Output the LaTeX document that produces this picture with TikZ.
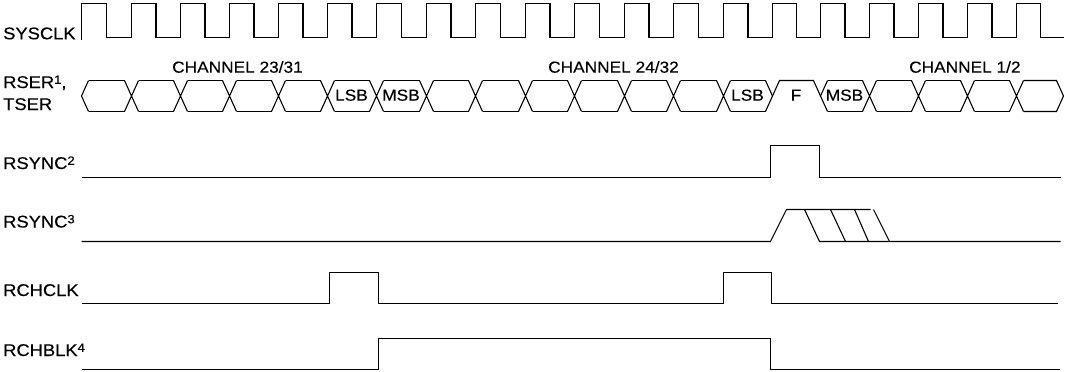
\documentclass[tikz,border=0pt]{standalone}
\usepackage{fontspec}
\setmainfont{Liberation Sans}[FakeStretch=1.08,FakeBold=0.3]
\newcommand{\supnum}[1]{\raisebox{4.2pt}{\fontsize{12}{12}\selectfont #1}}
\begin{document}
\begin{tikzpicture}[x=1pt,y=-1pt,
  wave/.style={line width=1.1pt,black,line join=miter},
  lbl/.style={anchor=base west,inner sep=0pt,font=\fontsize{17}{20}\selectfont},
  chl/.style={anchor=base west,inner sep=0pt,font=\fontsize{16}{19}\selectfont},
  cell/.style={anchor=base,inner sep=0pt,font=\fontsize{16}{19}\selectfont}]
\useasboundingbox (0,0) rectangle (1072,372);
% labels
\node[lbl] (lsys) at (3,39.3) {SYSCLK};
\node[lbl] (lrser) at (3,88) {RSER\supnum{1},};
\node[lbl] (ltser) at (3,110) {TSER};
\node[lbl] (lrs2) at (3,169) {RSYNC\supnum{2}};
\node[lbl] (lrs3) at (3,227.5) {RSYNC\supnum{3}};
\node[lbl] (lrch) at (3,296) {RCHCLK};
\node[lbl] (lrbl) at (3,356) {RCHBLK\supnum{4}};
\node[chl] (ch1) at (172,72.7) {CHANNEL 23/31};
\node[chl] (ch2) at (548,72.7) {CHANNEL 24/32};
\node[chl] (ch3) at (909,72.7) {CHANNEL 1/2};
\node[cell] (lsb1) at (351.5,100.7) {LSB};
\node[cell] (msb1) at (401,100.7) {MSB};
\node[cell] (lsb2) at (747.5,100.7) {LSB};
\node[cell] (f) at (796,100.7) {F};
\node[cell] (msb2) at (844.5,100.7) {MSB};
\begin{scope}[shift={(0.5,0.5)}]
% SYSCLK
\draw[wave] (81,39) -- (81,3)
  \foreach \r/\n in {81/131,131/180,180/229,229/278,278/327,327/376,376/426,426/475,475/525,525/574,574/624,624/673,673/723,723/772,772/820,820/869,869/918,918/967,967/1016}
  { -- ({(\r+\n)/2},3) -- ({(\r+\n)/2},37) -- (\n,37) -- (\n,3) }
  -- (1040,3) -- (1040,37) -- (1063,37);
% RSER / TSER bus
\draw[wave] (88,80) -- (81,95.5) -- (88,111);
\foreach \c in {131,180,229,278,327,376,426,475,525,574,624,673,723,869,918,967,1016}
  \draw[wave] (\c-7,80) -- (\c+7,111) (\c-7,111) -- (\c+7,80);
\foreach \a/\b in {81/131,131/180,180/229,229/278,278/327,327/376,376/426,426/475,475/525,525/574,574/624,624/673,673/723,723/772,820/869,869/918,918/967,967/1016}
  \draw[wave] (\a+7,80) -- (\b-7,80) (\a+7,111) -- (\b-7,111);
\draw[wave] (1023,80) -- (1056,80) -- (1063,95.5) -- (1056,111) -- (1023,111);
\draw[wave] (765,80) -- (772,95.5);
\draw[wave] (765,111) -- (779,80) -- (813,80) -- (827,111);
\draw[wave] (820,95.5) -- (827,80);
% RSYNC2
\draw[wave] (81,177) -- (770,177) -- (770,145) -- (819,145) -- (819,177) -- (1060,177);
% RSYNC3
\draw[wave] (81,241) -- (770,241) -- (786,209) -- (870,209);
\draw[wave] (804,209) -- (819,241) -- (1060,241);
\draw[wave] (830,209) -- (845,241);
\draw[wave] (854,209) -- (868,241);
\draw[wave] (873,209) -- (889,241);
% RCHCLK
\draw[wave] (81,303) -- (329,303) -- (329,272) -- (378,272) -- (378,303) -- (723,303) -- (723,272) -- (771,272) -- (771,303) -- (1057,303);
% RCHBLK
\draw[wave] (81,369) -- (378,369) -- (378,338) -- (770,338) -- (770,369) -- (1059,369);
\end{scope}
\end{tikzpicture}
\end{document}
